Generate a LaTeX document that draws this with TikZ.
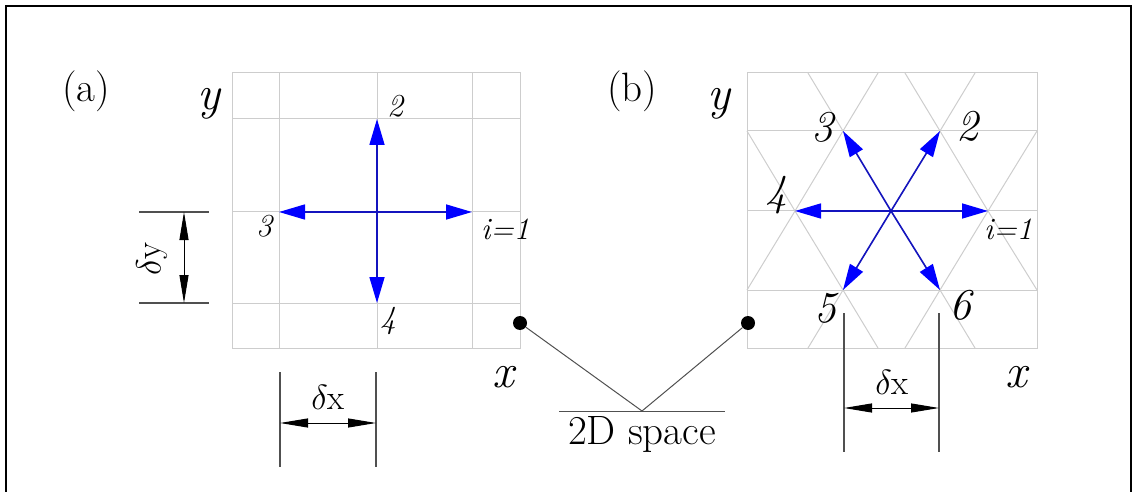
\RequirePackage{fix-cm}
\documentclass[tikz,border=0pt]{standalone}
\usepackage{fontspec}
\usetikzlibrary{arrows.meta}
\definecolor{gridgray}{RGB}{205,205,205}
\definecolor{dimgray}{RGB}{80,80,80}
\definecolor{arrline}{RGB}{20,20,190}
\definecolor{arrhead}{RGB}{0,0,255}
\begin{document}
\begin{tikzpicture}[x=1pt,y=-1pt,
  frameln/.style={line width=1.5pt,black},
  gridln/.style={line width=1pt,gridgray},
  bluearr/.style={line width=1.6pt,arrline,-{Triangle[length=26pt,width=15pt,color=arrhead]}},
  dimln/.style={line width=1.1pt,dimgray},
  dimarr/.style={line width=1pt,black,{Triangle[length=28pt,width=9pt]}-{Triangle[length=28pt,width=9pt]}},
  conn/.style={line width=1pt,dimgray},
  dot/.style={circle,fill=black,inner sep=0pt,minimum size=14pt},
  panel/.style={inner sep=0pt,anchor=base,font=\fontsize{41}{48}\selectfont},
  axis/.style={inner sep=0pt,anchor=base,font=\fontsize{48}{56}\selectfont\itshape},
  numa/.style={inner sep=0pt,font=\fontsize{32}{38}\selectfont\itshape},
  numi/.style={inner sep=0pt,anchor=west,font=\fontsize{31}{37}\selectfont\itshape},
  numb/.style={inner sep=0pt,font=\fontsize{44}{52}\selectfont\itshape},
  delta/.style={inner sep=0pt,anchor=base,font=\fontsize{35}{42}\selectfont}]
\useasboundingbox (0,0) rectangle (1136,492);
% outer frame
\draw[frameln] (6,492) -- (6,6) -- (1131,6) -- (1131,492);

% ---------- panel (a): square lattice ----------
\draw[gridln] (232,73) rectangle (520,348);
\foreach \x in {279,377,472} \draw[gridln] (\x,73) -- (\x,348);
\foreach \y in {119,212,303} \draw[gridln] (232,\y) -- (520,\y);
\coordinate (a0) at (377,212);
\coordinate (a1) at (472,212);
\coordinate (a2) at (377,119);
\coordinate (a3) at (279,212);
\coordinate (a4) at (377,303);
\foreach \k in {1,2,3,4} \draw[bluearr] (a0) -- (a\k);
\node[panel] (la) at (86,102) {(a)};
\node[axis] (ya) at (209,110) {y};
\node[axis] (xa) at (503,387) {x};
\node[numa] (na2) at (395,106) {2};
\node[numa] (na3) at (264,226) {3};
\node[numa] (na4) at (388,321) {4};
\node[numi] (na1) at (481,229) {i=1};

% dimension delta y
\coordinate (dyt1) at (139,212); \coordinate (dyt2) at (209,212);
\coordinate (dyb1) at (139,303); \coordinate (dyb2) at (209,303);
\draw[dimln] (dyt1) -- (dyt2);
\draw[dimln] (dyb1) -- (dyb2);
\coordinate (dya) at (184,212); \coordinate (dyb) at (184,303);
\draw[dimarr] (dya) -- (dyb);
\node[inner sep=0pt,font=\fontsize{35}{42}\selectfont,rotate=90] (dy) at (152,259) {$\delta$y};

% dimension delta x (a)
\coordinate (dxa1t) at (280,372); \coordinate (dxa1b) at (280,467);
\coordinate (dxa2t) at (376,372); \coordinate (dxa2b) at (376,467);
\draw[dimln] (dxa1t) -- (dxa1b);
\draw[dimln] (dxa2t) -- (dxa2b);
\coordinate (dxaa) at (280,423); \coordinate (dxab) at (376,423);
\draw[dimarr] (dxaa) -- (dxab);
\node[delta] (dxa) at (328,409) {$\delta$x};

% ---------- panel (b): triangular lattice ----------
\draw[gridln] (747,73) rectangle (1037,348);
\foreach \y in {131,211,290} \draw[gridln] (747,\y) -- (1037,\y);
\coordinate (A0) at (747,131); \coordinate (A1) at (843,131);
\coordinate (A2) at (940,131); \coordinate (A3) at (1037,131);
\coordinate (B1) at (795,211); \coordinate (B2) at (891,211);
\coordinate (B3) at (988,211);
\coordinate (C0) at (747,290); \coordinate (C1) at (843,290);
\coordinate (C2) at (940,290); \coordinate (C3) at (1037,290);
\draw[gridln] (A0) -- (B1) -- (A1) -- (B2) -- (A2) -- (B3) -- (A3);
\draw[gridln] (C0) -- (B1) -- (C1) -- (B2) -- (C2) -- (B3) -- (C3);
\draw[gridln] (808,73) -- (A1) -- (878,73);
\draw[gridln] (905,73) -- (A2) -- (975,73);
\draw[gridln] (808,348) -- (C1) -- (878,348);
\draw[gridln] (905,348) -- (C2) -- (975,348);
\draw[bluearr] (B2) -- (B3);
\draw[bluearr] (B2) -- (A2);
\draw[bluearr] (B2) -- (A1);
\draw[bluearr] (B2) -- (B1);
\draw[bluearr] (B2) -- (C1);
\draw[bluearr] (B2) -- (C2);
\node[panel] (lb) at (632,102) {(b)};
\node[axis] (yb) at (719,110) {y};
\node[axis] (xb) at (1016,387) {x};
\node[numb] (nb3) at (822,127) {3};
\node[numb] (nb2) at (967,126) {2};
\node[numb] (nb4) at (776,195) {4};
\node[numb] (nb5) at (825,308) {5};
\node[numb] (nb6) at (960,305) {6};
\node[numi] (nb1) at (984,229) {i=1};

% dimension delta x (b)
\coordinate (dxb1t) at (844,313); \coordinate (dxb1b) at (844,452);
\coordinate (dxb2t) at (939,313); \coordinate (dxb2b) at (939,452);
\draw[dimln] (dxb1t) -- (dxb1b);
\draw[dimln] (dxb2t) -- (dxb2b);
\coordinate (dxba) at (844,408); \coordinate (dxbb) at (939,408);
\draw[dimarr] (dxba) -- (dxbb);
\node[delta] (dxb) at (892,394) {$\delta$x};

% ---------- 2D space callout ----------
\node[dot] (d1) at (520,323) {};
\node[dot] (d2) at (748,323) {};
\coordinate (apex) at (642,411);
\draw[conn] (d1) -- (apex) -- (d2);
\coordinate (ul) at (559,411); \coordinate (ur) at (725,411);
\draw[conn] (ul) -- (ur);
\node[panel] (sp) at (642,444) {2D space};
\end{tikzpicture}
\end{document}
